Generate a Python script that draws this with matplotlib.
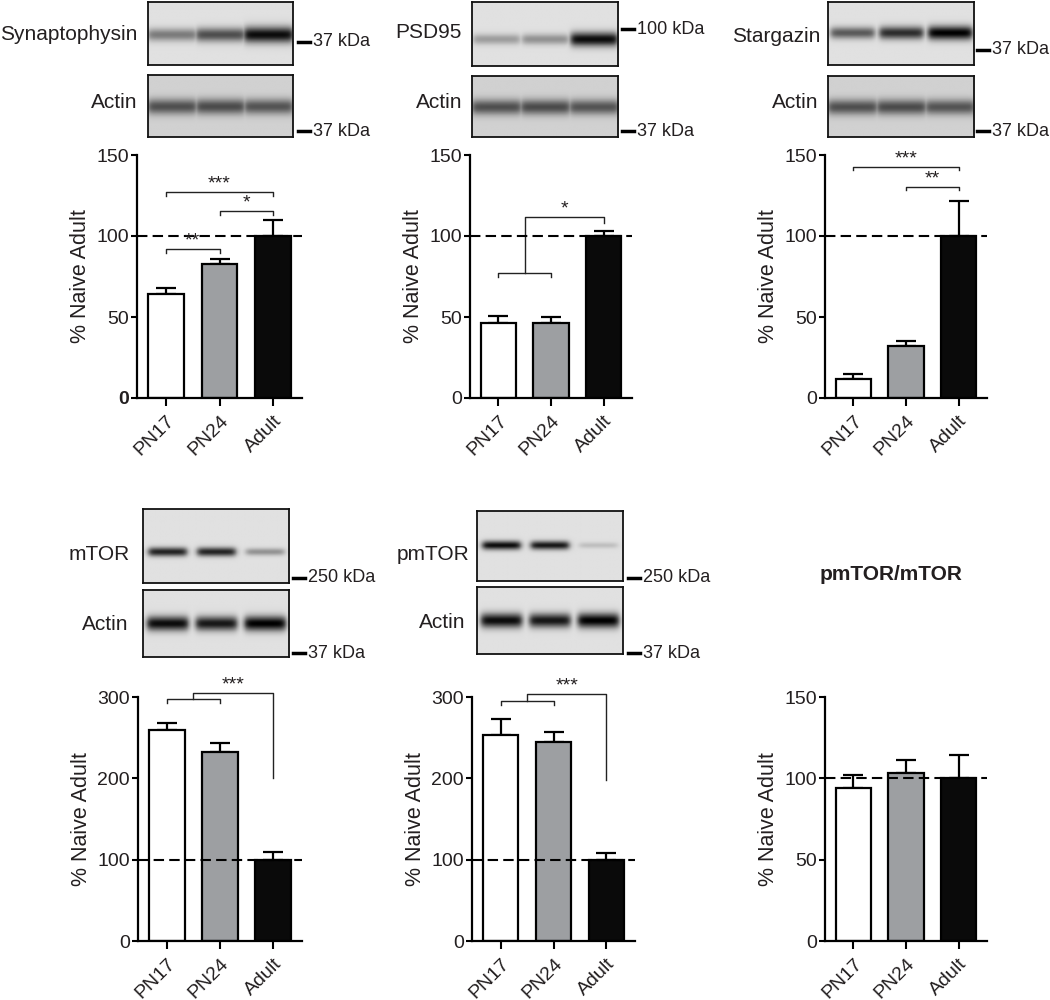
import numpy as np
import matplotlib
matplotlib.use("Agg")
import matplotlib.pyplot as plt
from matplotlib.lines import Line2D

plt.rcParams['font.family'] = ['Liberation Sans', 'DejaVu Sans']
TXT = '#231f20'

# ---------------- data ----------------
groups = ['PN17', 'PN24', 'Adult']
bar_colors = ['#ffffff', '#9d9fa2', '#0a0a0a']

syn_mean = [64.5, 83.0, 100.0]
syn_sem = [3.5, 2.8, 10.0]
psd_mean = [46.5, 46.5, 100.0]
psd_sem = [4.0, 3.3, 3.3]
stg_mean = [12.0, 32.0, 100.0]
stg_sem = [3.0, 3.2, 21.6]
mtor_mean = [259.0, 232.0, 100.0]
mtor_sem = [9.0, 12.0, 9.0]
pmtor_mean = [253.0, 245.0, 100.0]
pmtor_sem = [20.0, 12.0, 8.7]
ratio_mean = [94.0, 103.0, 100.0]
ratio_sem = [7.8, 8.5, 14.5]

# blot band intensities (PN17, PN24, Adult)
syn_band = [0.45, 0.65, 0.95]
psd_band = [0.30, 0.35, 0.95]
stg_band = [0.60, 0.80, 1.00]
mtor_band = [0.85, 0.85, 0.35]
pmtor_band = [0.95, 0.90, 0.15]
actin_top_band = [0.62, 0.64, 0.60]
actin_bot_band = [0.95, 0.90, 1.00]

W, H = 1050, 1000
fig = plt.figure(figsize=(W / 100, H / 100), dpi=100)


def rect(x0, y0, x1, y1):
    return [x0 / W, 1 - y1 / H, (x1 - x0) / W, (y1 - y0) / H]


def blot_image(intens, yfrac, sigma, half=0.16, bg=0.88, shape=(80, 180)):
    h, w = shape
    y = np.linspace(0, 1, h)[:, None]
    x = np.linspace(0, 1, w)[None, :]
    dark = np.zeros((h, w))
    for i, a in enumerate(intens):
        c = (2 * i + 1) / 6
        lane = 1 / (1 + np.exp(-(x - (c - half)) / 0.012)) * 1 / (1 + np.exp((x - (c + half)) / 0.012))
        s = sigma * (0.8 + 0.5 * a)
        band = np.exp(-0.5 * ((y - yfrac) / s) ** 2)
        dark = np.maximum(dark, a * lane * band)
    img = bg * (1 - dark)
    return np.clip(img, 0, 1)


def draw_blot(r, intens, yfrac, sigma, half=0.16, bg=0.88):
    ax = fig.add_axes(rect(*r))
    ax.imshow(blot_image(intens, yfrac, sigma, half, bg), cmap='gray', vmin=0, vmax=1,
              aspect='auto', interpolation='bilinear')
    ax.set_xticks([])
    ax.set_yticks([])
    for s in ax.spines.values():
        s.set_linewidth(1.3)
        s.set_color('#111111')


def fig_text(x, y, s, **kw):
    fig.text(x / W, 1 - y / H, s, color=TXT, **kw)


def marker(x, y, s):
    fig.add_artist(Line2D([x / W, (x + 12) / W], [1 - y / H, 1 - y / H], color='k', lw=2.5))
    fig_text(x + 15, y, s, fontsize=13, ha='left', va='center')


# ---------------- blots ----------------
draw_blot((148, 2, 293, 65), syn_band, 0.52, 0.07, half=0.17)
draw_blot((148, 75, 293, 137), actin_top_band, 0.51, 0.08, half=0.17, bg=0.82)
fig_text(137, 35, 'Synaptophysin', fontsize=15, ha='right', va='center')
fig_text(137, 103, 'Actin', fontsize=15, ha='right', va='center')
marker(298, 42, '37 kDa')
marker(298, 131, '37 kDa')

draw_blot((472, 2, 618, 66), psd_band, 0.59, 0.06, half=0.16)
draw_blot((472, 76, 618, 137), actin_top_band, 0.51, 0.08, half=0.17, bg=0.82)
fig_text(462, 33, 'PSD95', fontsize=15, ha='right', va='center')
fig_text(462, 103, 'Actin', fontsize=15, ha='right', va='center')
marker(622, 29, '100 kDa')
marker(622, 131, '37 kDa')

draw_blot((828, 2, 974, 65), stg_band, 0.49, 0.06, half=0.15)
draw_blot((828, 76, 974, 137), actin_top_band, 0.51, 0.08, half=0.17, bg=0.82)
fig_text(820, 37, 'Stargazin', fontsize=15, ha='right', va='center')
fig_text(818, 103, 'Actin', fontsize=15, ha='right', va='center')
marker(977, 50, '37 kDa')
marker(977, 131, '37 kDa')

draw_blot((143, 509, 289, 583), mtor_band, 0.58, 0.035, half=0.13)
draw_blot((143, 590, 289, 657), actin_bot_band, 0.50, 0.06, half=0.14)
fig_text(130, 554, 'mTOR', fontsize=15, ha='right', va='center')
fig_text(128, 624, 'Actin', fontsize=15, ha='right', va='center')
marker(293, 578, '250 kDa')
marker(293, 653, '37 kDa')

draw_blot((477, 511, 623, 581), pmtor_band, 0.49, 0.035, half=0.13)
draw_blot((477, 587, 623, 654), actin_bot_band, 0.50, 0.06, half=0.14)
fig_text(469, 554, 'pmTOR', fontsize=15, ha='right', va='center')
fig_text(465, 622, 'Actin', fontsize=15, ha='right', va='center')
marker(628, 578, '250 kDa')
marker(628, 653, '37 kDa')

fig_text(891, 575, 'pmTOR/mTOR', fontsize=15, fontweight='bold', ha='center', va='center')


# ---------------- bar panels ----------------
def bar_panel(r, means, sems, ymax, step, bold_zero=False):
    ax = fig.add_axes(rect(*r))
    x = np.arange(len(groups))
    ax.bar(x, means, width=0.67, color=bar_colors, edgecolor='k', linewidth=1.6, zorder=2)
    ax.errorbar(x, means, yerr=[np.zeros(len(x)), sems], fmt='none', ecolor='k',
                elinewidth=1.6, capsize=7, capthick=1.6, zorder=1.5)
    ax.axhline(100, ls=(0, (5, 2.5)), lw=1.5, color='k', zorder=3)
    ax.set_xlim(-0.54, 2.54)
    ax.set_ylim(0, ymax)
    ticks = np.arange(0, ymax + 1, step)
    ax.set_yticks(ticks, [str(int(t)) for t in ticks])
    ax.set_xticks(x, groups, rotation=45, ha='right', rotation_mode='anchor')
    ax.tick_params(axis='y', length=4, width=1.5, labelsize=14, labelcolor=TXT, pad=2)
    ax.tick_params(axis='x', length=6, width=1.5, labelsize=14, labelcolor=TXT, pad=4)
    for s in ['top', 'right']:
        ax.spines[s].set_visible(False)
    for s in ['left', 'bottom']:
        ax.spines[s].set_linewidth(1.6)
    ax.set_ylabel('% Naive Adult', fontsize=15.5, color=TXT)
    wpx = r[2] - r[0]
    ax.yaxis.set_label_coords(-46 / wpx, 0.5)
    if bold_zero:
        ax.get_yticklabels()[0].set_fontweight('bold')
    ax.patch.set_alpha(0)
    return ax


def bracket(ax, x1, x2, y, d, text):
    ax.plot([x1, x1, x2, x2], [y - d, y, y, y - d], color='#222222', lw=1.0,
            clip_on=False, solid_joinstyle='round')
    ax.annotate(text, xy=((x1 + x2) / 2, y), xytext=(0, 2.5), textcoords='offset points',
                ha='center', va='baseline', fontsize=14, color=TXT, annotation_clip=False)


def group_bracket(ax, ylow, yup, ydrop, d, text):
    ax.plot([0, 0, 1, 1], [ylow - d, ylow, ylow, ylow - d], color='#222222', lw=1.0, clip_on=False)
    ax.plot([0.5, 0.5, 2, 2], [ylow, yup, yup, ydrop], color='#222222', lw=1.0, clip_on=False)
    ax.annotate(text, xy=(1.25, yup), xytext=(0, 2.5), textcoords='offset points',
                ha='center', va='baseline', fontsize=14, color=TXT, annotation_clip=False)


ax1 = bar_panel((137, 155, 302, 398), syn_mean, syn_sem, 150, 50, bold_zero=True)
bracket(ax1, 0, 2, 127, 2.3, '***')
bracket(ax1, 1, 2, 115.4, 2.3, '*')
bracket(ax1, 0, 1, 92, 2.3, '**')

ax2 = bar_panel((470, 155, 632, 398), psd_mean, psd_sem, 150, 50)
group_bracket(ax2, 77, 111.5, 108, 2.5, '*')

ax3 = bar_panel((825, 155, 987, 398), stg_mean, stg_sem, 150, 50)
bracket(ax3, 0, 2, 142.8, 2.3, '***')
bracket(ax3, 1, 2, 130.5, 2.3, '**')

ax4 = bar_panel((138, 697, 302, 941), mtor_mean, mtor_sem, 300, 100)
group_bracket(ax4, 297.5, 305, 200, 5, '***')

ax5 = bar_panel((472, 697, 635, 941), pmtor_mean, pmtor_sem, 300, 100)
group_bracket(ax5, 295.5, 303.8, 198, 5, '***')

ax6 = bar_panel((825, 697, 987, 941), ratio_mean, ratio_sem, 150, 50)

fig.savefig('out.png', dpi=100, facecolor='white')
